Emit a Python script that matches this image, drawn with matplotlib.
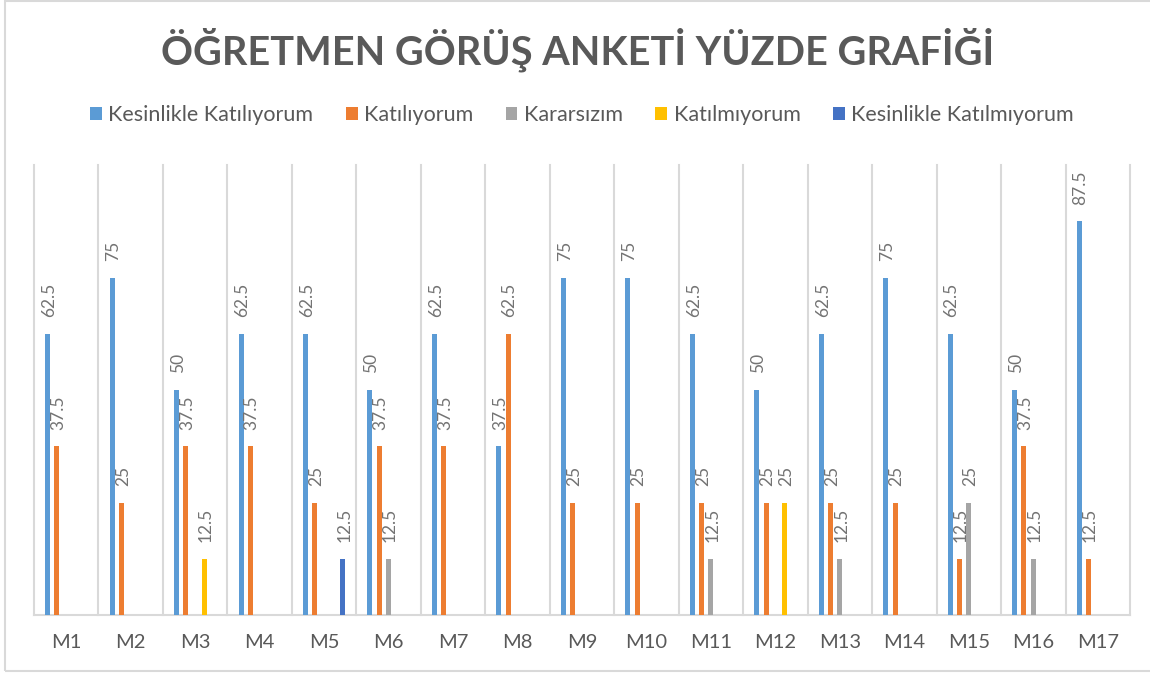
import numpy as np
import matplotlib
matplotlib.use("Agg")
import matplotlib.pyplot as plt
from matplotlib.patches import Patch, Rectangle

plt.rcParams['font.family'] = ['Lato', 'DejaVu Sans']

# Chart data (percent)
questions = ['M1', 'M2', 'M3', 'M4', 'M5', 'M6', 'M7', 'M8', 'M9', 'M10',
             'M11', 'M12', 'M13', 'M14', 'M15', 'M16', 'M17']
series_names = ['Kesinlikle Katılıyorum', 'Katılıyorum', 'Kararsızım',
                'Katılmıyorum', 'Kesinlikle Katılmıyorum']
kesinlikle_katiliyorum = [62.5, 75, 50, 62.5, 62.5, 50, 62.5, 37.5, 75, 75,
                          62.5, 50, 62.5, 75, 62.5, 50, 87.5]
katiliyorum = [37.5, 25, 37.5, 37.5, 25, 37.5, 37.5, 62.5, 25, 25,
               25, 25, 25, 25, 12.5, 37.5, 12.5]
kararsizim = [0, 0, 0, 0, 0, 12.5, 0, 0, 0, 0,
              12.5, 0, 12.5, 0, 25, 12.5, 0]
katilmiyorum = [0, 0, 12.5, 0, 0, 0, 0, 0, 0, 0,
                0, 25, 0, 0, 0, 0, 0]
kesinlikle_katilmiyorum = [0, 0, 0, 0, 12.5, 0, 0, 0, 0, 0,
                           0, 0, 0, 0, 0, 0, 0]

colors = ['#5B9BD5', '#ED7D31', '#A5A5A5', '#FFC000', '#4472C4']
all_series = [kesinlikle_katiliyorum, katiliyorum, kararsizim,
              katilmiyorum, kesinlikle_katilmiyorum]

text_gray = '#595959'
label_gray = '#737373'
grid_gray = '#D9D9D9'

fig = plt.figure(figsize=(11.5, 6.75), dpi=100)
ax = fig.add_axes([34 / 1150, 60 / 675, 1096 / 1150, 450 / 675])

x = np.arange(len(questions))
step = 0.1445
bar_w = 0.078

for i, (vals, col) in enumerate(zip(all_series, colors)):
    pos = x + (i - 2) * step
    ax.bar(pos, vals, width=bar_w, color=col, zorder=3)
    for px, v in zip(pos, vals):
        if v == 0:
            continue
        ax.annotate(f'{v:g}', (px, v), xytext=(1, 12), textcoords='offset points',
                    rotation=90, ha='center', va='bottom', fontsize=12.5,
                    color=label_gray, zorder=4)

# category separators and baseline
for k in range(len(questions) + 1):
    ax.axvline(k - 0.5, color=grid_gray, lw=1.5, zorder=1, clip_on=False)
ax.axhline(0, color=grid_gray, lw=1.5, zorder=2, clip_on=False)

ax.set_xlim(-0.5, len(questions) - 0.5)
ax.set_ylim(0, 100)
ax.set_yticks([])
ax.set_xticks(x)
ax.set_xticklabels(questions, fontsize=14.5, color=text_gray)
ax.tick_params(axis='x', length=0, pad=14)
for s in ax.spines.values():
    s.set_visible(False)

fig.text(0.502, 1 - 50 / 675, 'ÖĞRETMEN GÖRÜŞ ANKETİ YÜZDE GRAFİĞİ',
         ha='center', va='center', fontsize=28.5, fontweight='bold', color=text_gray)

handles = [Patch(facecolor=c, edgecolor='none') for c in colors]
fig.legend(handles, series_names, loc='center', bbox_to_anchor=(0.506, 1 - 115 / 675),
           ncol=5, frameon=False, fontsize=15.5, labelcolor=text_gray,
           handlelength=0.55, handleheight=0.55, handletextpad=0.3, columnspacing=1.5)

# outer chart frame
fig.patches.append(Rectangle((5 / 1150, 4 / 675), 1.02, 1 - 5 / 675,
                             transform=fig.transFigure, fill=False,
                             edgecolor=grid_gray, lw=1.5))

fig.savefig('out.png', dpi=100)
